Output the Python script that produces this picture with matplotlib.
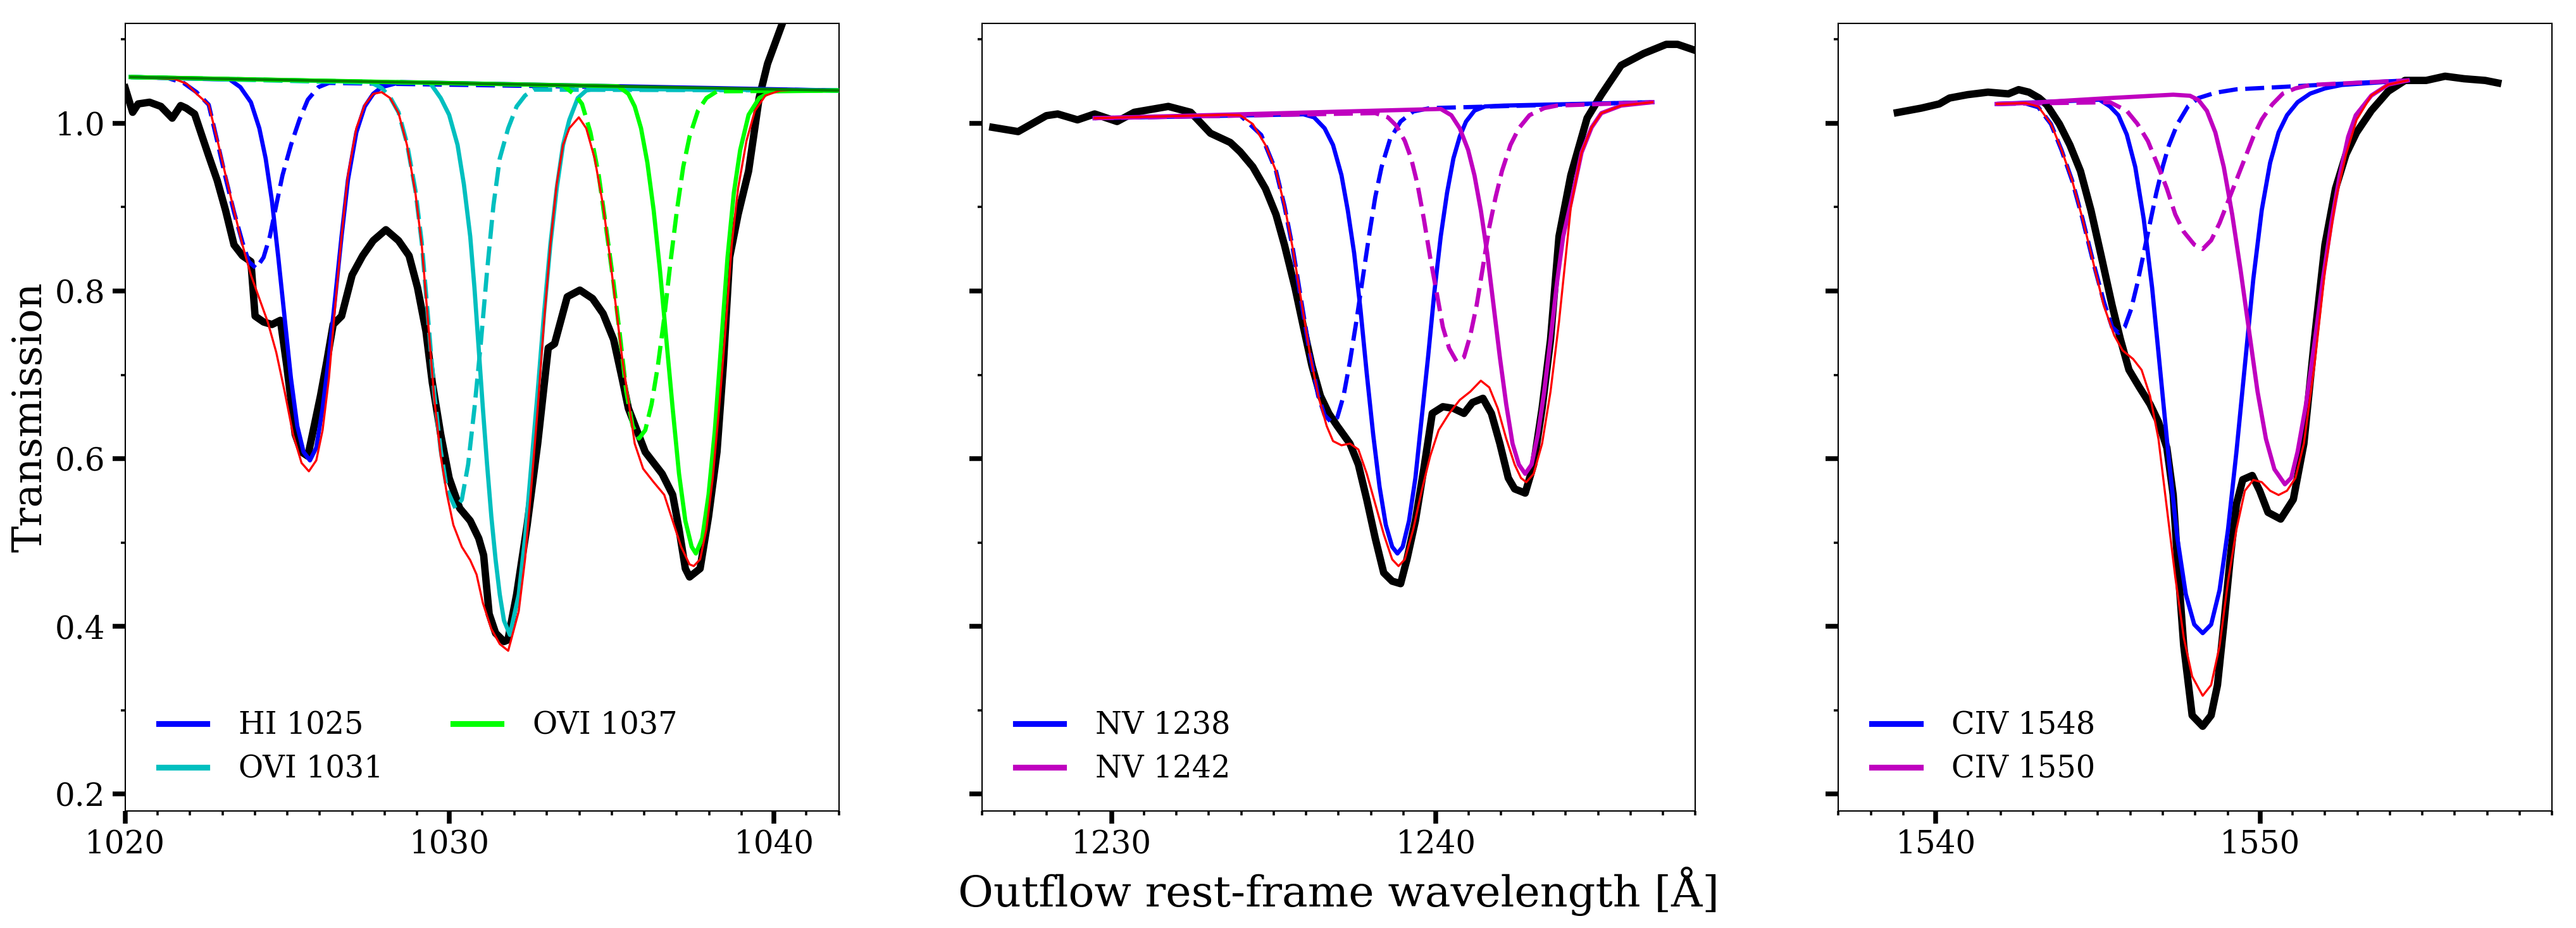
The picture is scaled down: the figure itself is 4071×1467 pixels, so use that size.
import matplotlib
matplotlib.use("Agg")
import matplotlib.pyplot as plt
from matplotlib.ticker import MultipleLocator

plt.rcParams['font.family'] = ['DejaVu Serif']

# ---------------- Panel 1 : HI 1025 / OVI 1031,1037 ----------------
p1_data_wl = [1020.00, 1020.23, 1020.40, 1020.75, 1021.10, 1021.45, 1021.71, 1021.88, 1022.14, 1022.40,
              1022.575, 1022.835, 1023.095, 1023.355, 1023.615, 1023.875, 1024.005, 1024.265, 1024.525,
              1024.786, 1024.981, 1025.241, 1025.436, 1025.631, 1025.826, 1026.021, 1026.216, 1026.411,
              1026.671, 1026.996, 1027.321, 1027.646, 1028.037, 1028.427, 1028.752, 1029.012, 1029.272,
              1029.467, 1029.727, 1029.987, 1030.312, 1030.637, 1030.90, 1031.05, 1031.22, 1031.42, 1031.68,
              1031.80, 1032.067, 1032.392, 1032.717, 1033.042, 1033.237, 1033.628, 1034.018, 1034.408,
              1034.733, 1035.058, 1035.318, 1035.513, 1035.773, 1036.033, 1036.293, 1036.553, 1036.878,
              1037.074, 1037.269, 1037.399, 1037.724, 1037.984, 1038.244, 1038.439, 1038.634, 1038.894,
              1039.219, 1039.544, 1039.804, 1040.26, 1040.70]
p1_data_t = [1.042, 1.013, 1.023, 1.025, 1.020, 1.006, 1.021, 1.018, 1.011, 0.981,
             0.961, 0.932, 0.896, 0.855, 0.842, 0.835, 0.770, 0.763, 0.760,
             0.765, 0.711, 0.629, 0.608, 0.603, 0.639, 0.675, 0.716, 0.760,
             0.770, 0.819, 0.842, 0.860, 0.873, 0.860, 0.842, 0.804, 0.752,
             0.691, 0.629, 0.577, 0.541, 0.526, 0.505, 0.485, 0.415, 0.392, 0.382,
             0.384, 0.438, 0.521, 0.618, 0.732, 0.737, 0.793, 0.801, 0.791,
             0.773, 0.742, 0.696, 0.660, 0.634, 0.608, 0.595, 0.582, 0.557,
             0.516, 0.469, 0.459, 0.469, 0.531, 0.608, 0.711, 0.840, 0.891,
             0.943, 1.030, 1.071, 1.119, 1.170]

p1_cont_wl = [1020.17, 1042.0]
p1_cont_t = [1.055, 1.039]

p1_model_wl = [1020.17, 1021.5, 1021.9, 1022.23, 1022.575, 1022.835, 1023.095, 1023.355, 1023.615, 1023.875,
               1024.135, 1024.395, 1024.656, 1024.916, 1025.176, 1025.436, 1025.663, 1025.891, 1026.086,
               1026.281, 1026.476, 1026.671, 1026.866, 1027.126, 1027.386, 1027.646, 1027.906, 1028.167,
               1028.427, 1028.687, 1028.947, 1029.142, 1029.337, 1029.532, 1029.727, 1029.922, 1030.117,
               1030.377, 1030.637, 1030.832, 1031.027, 1031.288, 1031.548, 1031.808, 1032.132, 1032.327,
               1032.522, 1032.717, 1032.912, 1033.107, 1033.302, 1033.498, 1033.693, 1033.985, 1034.213,
               1034.473, 1034.733, 1034.928, 1035.123, 1035.318, 1035.513, 1035.708, 1035.968, 1036.293,
               1036.618, 1036.878, 1037.139, 1037.399, 1037.529, 1037.724, 1037.919, 1038.114, 1038.309,
               1038.504, 1038.699, 1038.894, 1039.154, 1039.414, 1039.739, 1040.194, 1040.845, 1042.0]
p1_model_t = [1.055, 1.053, 1.047, 1.034, 1.022, 0.981, 0.938, 0.896, 0.855, 0.819,
              0.791, 0.763, 0.727, 0.680, 0.629, 0.595, 0.585, 0.598, 0.634,
              0.696, 0.783, 0.865, 0.938, 0.994, 1.022, 1.035, 1.037, 1.030,
              1.012, 0.974, 0.917, 0.855, 0.763, 0.670, 0.603, 0.557, 0.521,
              0.495, 0.479, 0.462, 0.428, 0.397, 0.379, 0.371, 0.418, 0.480,
              0.567, 0.660, 0.763, 0.855, 0.927, 0.974, 0.994, 1.007, 0.994,
              0.958, 0.902, 0.845, 0.783, 0.721, 0.670, 0.618, 0.588, 0.572,
              0.557, 0.526, 0.495, 0.474, 0.472, 0.480, 0.516, 0.577, 0.660,
              0.752, 0.855, 0.922, 0.979, 1.015, 1.033, 1.039, 1.040, 1.039]

hi1025_a_wl = [1020.17, 1023.225, 1023.55, 1023.875, 1024.135, 1024.33, 1024.525, 1024.72, 1024.915, 1025.11,
               1025.305, 1025.50, 1025.696, 1025.89, 1026.086, 1026.28, 1026.476, 1026.67, 1026.866, 1027.126,
               1027.386, 1027.646, 1027.906, 1028.5, 1042.0]
hi1025_a_t = [1.055, 1.052, 1.043, 1.025, 0.994, 0.958, 0.907, 0.840, 0.768, 0.696,
              0.639, 0.608, 0.598, 0.613, 0.660, 0.721, 0.793, 0.865, 0.932, 0.989,
              1.020, 1.035, 1.043, 1.049, 1.039]
hi1025_b_wl = [1020.17, 1021.3, 1021.8, 1022.2, 1022.575, 1022.835, 1023.095, 1023.355, 1023.615, 1023.81,
               1024.038, 1024.265, 1024.46, 1024.656, 1024.85, 1025.11, 1025.37, 1025.63, 1025.956, 1026.28, 1042.0]
hi1025_b_t = [1.055, 1.054, 1.048, 1.037, 1.022, 0.979, 0.935, 0.894, 0.858, 0.835,
              0.827, 0.840, 0.865, 0.902, 0.938, 0.974, 1.004, 1.028, 1.043, 1.048, 1.039]

ovi1031_a_wl = [1020.17, 1029.4, 1029.727, 1029.987, 1030.247, 1030.442, 1030.637, 1030.767, 1030.897, 1031.027,
                1031.157, 1031.288, 1031.418, 1031.548, 1031.678, 1031.86, 1032.132, 1032.327, 1032.522,
                1032.717, 1032.912, 1033.107, 1033.302, 1033.498, 1033.693, 1033.953, 1034.213, 1034.473, 1042.0]
ovi1031_a_t = [1.055, 1.048, 1.030, 1.010, 0.974, 0.927, 0.865, 0.804, 0.732, 0.660,
               0.593, 0.531, 0.480, 0.438, 0.407, 0.390, 0.438, 0.505, 0.593,
               0.680, 0.773, 0.855, 0.922, 0.974, 1.004, 1.030, 1.039, 1.041, 1.039]
ovi1031_b_wl = [1020.17, 1027.6, 1027.906, 1028.167, 1028.427, 1028.687, 1028.947, 1029.142, 1029.337, 1029.532,
                1029.727, 1029.922, 1030.18, 1030.377, 1030.572, 1030.767, 1030.962, 1031.157, 1031.353,
                1031.548, 1031.808, 1032.068, 1032.328, 1032.588, 1042.0]
ovi1031_b_t = [1.055, 1.048, 1.042, 1.031, 1.013, 0.976, 0.920, 0.858, 0.768, 0.676,
               0.610, 0.563, 0.541, 0.551, 0.593, 0.660, 0.737, 0.824, 0.902,
               0.958, 0.994, 1.020, 1.033, 1.040, 1.039]

ovi1037_a_wl = [1020.17, 1035.2, 1035.513, 1035.708, 1035.903, 1036.098, 1036.293, 1036.488, 1036.683, 1036.878,
                1037.074, 1037.269, 1037.464, 1037.594, 1037.789, 1037.984, 1038.179, 1038.374, 1038.569,
                1038.764, 1038.959, 1039.219, 1039.544, 1039.934, 1042.0]
ovi1037_a_t = [1.055, 1.044, 1.035, 1.020, 0.994, 0.953, 0.896, 0.824, 0.742, 0.660,
               0.582, 0.526, 0.495, 0.487, 0.505, 0.557, 0.634, 0.737, 0.840,
               0.917, 0.968, 1.010, 1.030, 1.038, 1.039]
ovi1037_b_wl = [1020.17, 1033.5, 1033.888, 1034.083, 1034.343, 1034.603, 1034.863, 1035.058, 1035.253, 1035.448,
                1035.643, 1035.838, 1036.033, 1036.228, 1036.423, 1036.618, 1036.813, 1037.009, 1037.204,
                1037.399, 1037.659, 1037.919, 1038.244, 1042.0]
ovi1037_b_t = [1.055, 1.045, 1.033, 1.023, 0.989, 0.937, 0.865, 0.809, 0.747, 0.680,
               0.639, 0.624, 0.634, 0.665, 0.711, 0.768, 0.835, 0.896, 0.948,
               0.984, 1.015, 1.030, 1.038, 1.039]

# ---------------- Panel 2 : NV doublet ----------------
p2_data_wl = [1226.34, 1227.12, 1227.99, 1228.34, 1228.95, 1229.48, 1230.17, 1230.70, 1231.75, 1232.44,
              1233.05, 1233.66, 1233.963, 1234.354, 1234.744, 1235.07, 1235.33, 1235.656, 1235.916, 1236.177,
              1236.437, 1236.697, 1236.958, 1237.349, 1237.609, 1237.869, 1238.13, 1238.39, 1238.651, 1238.911,
              1239.106, 1239.367, 1239.627, 1239.887, 1240.213, 1240.539, 1240.864, 1241.125, 1241.45, 1241.71,
              1241.971, 1242.231, 1242.427, 1242.752, 1243.012, 1243.273, 1243.533, 1243.794, 1244.159, 1244.66,
              1245.10, 1245.71, 1246.40, 1247.10, 1247.45, 1247.98, 1248.10]
p2_data_t = [0.995, 0.990, 1.009, 1.011, 1.004, 1.011, 1.002, 1.013, 1.020, 1.013,
             0.988, 0.977, 0.966, 0.948, 0.922, 0.891, 0.855, 0.804, 0.757, 0.711,
             0.675, 0.654, 0.639, 0.618, 0.593, 0.551, 0.505, 0.464, 0.454, 0.451,
             0.480, 0.526, 0.588, 0.654, 0.662, 0.660, 0.654, 0.667, 0.672, 0.654,
             0.618, 0.577, 0.564, 0.559, 0.593, 0.660, 0.742, 0.865, 0.938, 1.006,
             1.034, 1.069, 1.083, 1.094, 1.094, 1.087, 1.086]

p2_model_wl = [1229.48, 1233.5, 1233.963, 1234.354, 1234.744, 1235.07, 1235.33, 1235.59, 1235.851, 1236.111,
               1236.372, 1236.632, 1236.828, 1237.088, 1237.349, 1237.609, 1237.869, 1238.13, 1238.39, 1238.651,
               1238.846, 1239.041, 1239.302, 1239.562, 1239.822, 1240.083, 1240.408, 1240.734, 1241.06, 1241.385,
               1241.645, 1241.906, 1242.166, 1242.427, 1242.622, 1242.785, 1243.012, 1243.273, 1243.533, 1243.794,
               1244.159, 1244.49, 1244.8, 1245.1, 1245.71, 1246.67]
p2_model_t = [1.006, 1.010, 1.0095, 0.999, 0.974, 0.943, 0.902, 0.850, 0.788, 0.726,
              0.675, 0.639, 0.621, 0.616, 0.618, 0.611, 0.582, 0.546, 0.510, 0.480,
              0.472, 0.480, 0.516, 0.562, 0.603, 0.634, 0.654, 0.670, 0.680, 0.693,
              0.685, 0.660, 0.624, 0.593, 0.577, 0.572, 0.582, 0.618, 0.680, 0.763,
              0.900, 0.965, 0.995, 1.012, 1.021, 1.025]

nv1238_a_wl = [1229.48, 1235.916, 1236.242, 1236.567, 1236.828, 1237.088, 1237.283, 1237.479, 1237.674, 1237.869,
               1238.065, 1238.26, 1238.455, 1238.651, 1238.813, 1238.976, 1239.171, 1239.367, 1239.562, 1239.757,
               1239.953, 1240.148, 1240.343, 1240.539, 1240.734, 1240.929, 1241.19, 1241.515, 1242.1, 1246.67]
nv1238_a_t = [1.006, 1.0106, 1.007, 0.994, 0.974, 0.938, 0.896, 0.845, 0.778, 0.701,
              0.629, 0.567, 0.521, 0.495, 0.487, 0.495, 0.526, 0.577, 0.649, 0.721,
              0.799, 0.865, 0.917, 0.958, 0.984, 1.002, 1.015, 1.020, 1.021, 1.025]
nv1238_b_wl = [1229.48, 1233.963, 1234.614, 1235.07, 1235.33, 1235.59, 1235.85, 1236.11, 1236.37, 1236.567,
               1236.763, 1236.958, 1237.153, 1237.349, 1237.544, 1237.739, 1237.935, 1238.13, 1238.325, 1238.586,
               1238.911, 1239.302, 1239.822, 1246.67]
nv1238_b_t = [1.006, 1.0095, 0.986, 0.943, 0.9015, 0.850, 0.788, 0.726, 0.675, 0.652,
              0.644, 0.649, 0.675, 0.716, 0.763, 0.814, 0.865, 0.912, 0.948, 0.981,
              1.002, 1.014, 1.018, 1.025]
nv1242_a_wl = [1229.48, 1240.148, 1240.474, 1240.734, 1240.994, 1241.19, 1241.385, 1241.58, 1241.776, 1241.971,
               1242.166, 1242.362, 1242.557, 1242.752, 1242.948, 1243.143, 1243.338, 1243.533, 1243.729, 1243.924,
               1244.159, 1244.49, 1244.8, 1245.1, 1245.71, 1246.67]
nv1242_a_t = [1.006, 1.017, 1.0095, 0.994, 0.968, 0.9375, 0.896, 0.845, 0.783, 0.721,
              0.665, 0.618, 0.593, 0.582, 0.593, 0.629, 0.680, 0.742, 0.809, 0.865,
              0.905, 0.965, 0.995, 1.012, 1.021, 1.025]
nv1242_b_wl = [1229.48, 1238.13, 1238.52, 1238.78, 1239.04, 1239.237, 1239.432, 1239.627, 1239.822, 1240.018,
               1240.213, 1240.408, 1240.636, 1240.864, 1241.06, 1241.255, 1241.45, 1241.645, 1241.841, 1242.036,
               1242.297, 1242.557, 1242.883, 1243.338, 1243.729, 1246.67]
nv1242_b_t = [1.006, 1.012, 1.007, 0.997, 0.979, 0.958, 0.927, 0.886, 0.840, 0.799,
              0.757, 0.7316, 0.716, 0.721, 0.747, 0.783, 0.829, 0.876, 0.912, 0.943,
              0.974, 0.994, 1.0095, 1.018, 1.021, 1.025]

# ---------------- Panel 3 : CIV doublet ----------------
p3_data_wl = [1538.817, 1539.558, 1540.11, 1540.426, 1540.978, 1541.61, 1542.24, 1542.555, 1542.871, 1543.186,
              1543.422, 1543.812, 1544.136, 1544.461, 1544.786, 1545.111, 1545.436, 1545.696, 1545.956, 1546.281,
              1546.606, 1546.866, 1547.125, 1547.32, 1547.45, 1547.645, 1547.905, 1548.23, 1548.49, 1548.685,
              1548.88, 1549.075, 1549.27, 1549.465, 1549.757, 1549.985, 1550.244, 1550.634, 1551.024, 1551.349,
              1551.674, 1551.999, 1552.324, 1552.649, 1552.974, 1553.429, 1553.948, 1554.468, 1555.118, 1555.703,
              1556.288, 1556.937, 1557.327]
p3_data_t = [1.0127, 1.018, 1.023, 1.030, 1.034, 1.037, 1.035, 1.040, 1.037, 1.030,
             1.022, 0.999, 0.974, 0.943, 0.896, 0.840, 0.783, 0.742, 0.706, 0.685,
             0.665, 0.644, 0.613, 0.557, 0.480, 0.377, 0.294, 0.281, 0.294, 0.330,
             0.402, 0.480, 0.546, 0.575, 0.580, 0.562, 0.536, 0.528, 0.5515, 0.618,
             0.742, 0.855, 0.922, 0.963, 0.989, 1.015, 1.038, 1.051, 1.051, 1.056,
             1.053, 1.051, 1.048]

p3_model_wl = [1541.88, 1542.772, 1543.162, 1543.552, 1543.877, 1544.201, 1544.526, 1544.851, 1545.176, 1545.501,
               1545.761, 1546.086, 1546.346, 1546.606, 1546.866, 1547.125, 1547.385, 1547.645, 1547.905, 1548.23,
               1548.49, 1548.75, 1549.01, 1549.27, 1549.53, 1549.79, 1550.05, 1550.309, 1550.569, 1550.829,
               1551.089, 1551.349, 1551.674, 1551.999, 1552.324, 1552.649, 1552.974, 1553.429, 1553.948, 1554.55]
p3_model_t = [1.023, 1.024, 1.0198, 0.9993, 0.9684, 0.9323, 0.886, 0.8346, 0.7831, 0.7471,
              0.7291, 0.7188, 0.7059, 0.675, 0.6236, 0.5412, 0.4589, 0.3868, 0.3405, 0.3174,
              0.3302, 0.3765, 0.4537, 0.5155, 0.5618, 0.5747, 0.5721, 0.5618, 0.5567, 0.5618,
              0.577, 0.618, 0.711, 0.824, 0.907, 0.963, 1.004, 1.033, 1.046, 1.051]

civ1548_a_wl = [1541.88, 1545.046, 1545.371, 1545.631, 1545.891, 1546.151, 1546.411, 1546.671, 1546.931, 1547.19,
                1547.45, 1547.71, 1547.97, 1548.23, 1548.49, 1548.75, 1549.01, 1549.27, 1549.53, 1549.79,
                1550.05, 1550.309, 1550.569, 1550.829, 1551.154, 1551.544, 1552.0, 1552.52, 1554.55]
civ1548_a_t = [1.023, 1.028, 1.020, 1.0095, 0.9864, 0.9478, 0.886, 0.8037, 0.7008, 0.5978,
               0.5052, 0.4383, 0.4023, 0.392, 0.4023, 0.4434, 0.5155, 0.6081, 0.7111, 0.814,
               0.8963, 0.9529, 0.989, 1.0095, 1.025, 1.0353, 1.0415, 1.0456, 1.051]
civ1548_b_wl = [1541.88, 1542.772, 1543.162, 1543.552, 1543.877, 1544.201, 1544.526, 1544.851, 1545.176, 1545.436,
                1545.631, 1545.826, 1546.021, 1546.216, 1546.411, 1546.606, 1546.801, 1546.996, 1547.19, 1547.45,
                1547.775, 1548.1, 1548.62, 1549.27, 1550.569, 1552.948, 1554.55]
civ1548_b_t = [1.023, 1.0235, 1.019, 0.999, 0.968, 0.932, 0.886, 0.835, 0.788, 0.757,
               0.750, 0.757, 0.778, 0.809, 0.845, 0.881, 0.917, 0.948, 0.974, 0.999,
               1.020, 1.030, 1.0363, 1.0404, 1.043, 1.048, 1.051]
civ1550_a_wl = [1541.88, 1542.772, 1545.371, 1547.32, 1547.84, 1548.1, 1548.36, 1548.62, 1548.88, 1549.14,
                1549.40, 1549.66, 1549.92, 1550.18, 1550.44, 1550.764, 1550.959, 1551.154, 1551.414, 1551.674,
                1551.934, 1552.194, 1552.454, 1552.714, 1552.948, 1553.43, 1553.95, 1554.55]
civ1550_a_t = [1.023, 1.024, 1.030, 1.034, 1.0327, 1.0276, 1.0147, 0.989, 0.9478, 0.891,
               0.8243, 0.7522, 0.6802, 0.6236, 0.5875, 0.5695, 0.5772, 0.6081, 0.6647, 0.7368,
               0.814, 0.8809, 0.9375, 0.9838, 1.0095, 1.033, 1.046, 1.051]
civ1550_b_wl = [1541.88, 1545.371, 1545.891, 1546.216, 1546.541, 1546.866, 1547.125, 1547.385, 1547.645, 1547.97,
                1548.23, 1548.49, 1548.75, 1549.01, 1549.27, 1549.53, 1549.79, 1550.05, 1550.374, 1550.699,
                1551.089, 1551.544, 1554.55]
civ1550_b_t = [1.023, 1.025, 1.0147, 0.9993, 0.9787, 0.9478, 0.9221, 0.8912, 0.8706, 0.8552,
               0.85, 0.8603, 0.8809, 0.9066, 0.9323, 0.9581, 0.9838, 1.0044, 1.0224, 1.0353,
               1.0415, 1.0456, 1.051]

xlims = [(1020, 1042), (1226, 1248), (1537, 1559)]
ylims = (0.180, 1.119)

# ---------------- Figure ----------------
DPI = 300
fig, axes = plt.subplots(1, 3, figsize=(4071 / DPI, 1467 / DPI), dpi=DPI, sharey=True)
fig.subplots_adjust(left=0.0486, right=0.9907, bottom=0.1261, top=0.9748, wspace=0.2004)

LW_DATA, LW_COMP, LW_MODEL = 2.8, 1.6, 0.8
DASH = (4.5, 1.8)

def draw_panel(ax, data, comps, model, cont=None):
    ax.plot(data[0], data[1], color='k', lw=LW_DATA, zorder=2)
    for (wa, ta, wb, tb, col, lab) in comps:
        ax.plot(wa, ta, color=col, lw=LW_COMP, label=lab, zorder=3)
        ax.plot(wb, tb, color=col, lw=LW_COMP, ls=(0, DASH), zorder=3)
    ax.plot(model[0], model[1], color='r', lw=LW_MODEL, zorder=4)
    if cont is not None:
        ax.plot(cont[0], cont[1], color='g', lw=1.1, zorder=5)

draw_panel(axes[0], (p1_data_wl, p1_data_t),
           [(hi1025_a_wl, hi1025_a_t, hi1025_b_wl, hi1025_b_t, 'b', 'HI 1025'),
            (ovi1031_a_wl, ovi1031_a_t, ovi1031_b_wl, ovi1031_b_t, 'c', 'OVI 1031'),
            (ovi1037_a_wl, ovi1037_a_t, ovi1037_b_wl, ovi1037_b_t, 'lime', 'OVI 1037')],
           (p1_model_wl, p1_model_t), cont=(p1_cont_wl, p1_cont_t))
draw_panel(axes[1], (p2_data_wl, p2_data_t),
           [(nv1238_a_wl, nv1238_a_t, nv1238_b_wl, nv1238_b_t, 'b', 'NV 1238'),
            (nv1242_a_wl, nv1242_a_t, nv1242_b_wl, nv1242_b_t, 'm', 'NV 1242')],
           (p2_model_wl, p2_model_t))
draw_panel(axes[2], (p3_data_wl, p3_data_t),
           [(civ1548_a_wl, civ1548_a_t, civ1548_b_wl, civ1548_b_t, 'b', 'CIV 1548'),
            (civ1550_a_wl, civ1550_a_t, civ1550_b_wl, civ1550_b_t, 'm', 'CIV 1550')],
           (p3_model_wl, p3_model_t))

for i, ax in enumerate(axes):
    ax.set_xlim(*xlims[i])
    ax.set_ylim(*ylims)
    ax.xaxis.set_major_locator(MultipleLocator(10))
    ax.xaxis.set_minor_locator(MultipleLocator(1))
    ax.yaxis.set_major_locator(MultipleLocator(0.2))
    ax.yaxis.set_minor_locator(MultipleLocator(0.1))
    ax.tick_params(which='major', direction='out', length=4.7, width=1.8, labelsize=12)
    ax.tick_params(which='minor', direction='out', length=1.7, width=0.85)
    ax.tick_params(axis='x', which='major', pad=2.0)
    ax.tick_params(axis='y', which='major', pad=2.9)
    for sp in ax.spines.values():
        sp.set_linewidth(0.5)
    leg = ax.legend(loc='lower left', bbox_to_anchor=(0.047, 0.0341), borderaxespad=0, borderpad=0,
                    ncol=2 if i == 0 else 1, frameon=False, fontsize=11.5,
                    handlelength=1.59, handletextpad=1.04, columnspacing=2.3, labelspacing=0.46)
    for h in leg.get_lines():
        h.set_linewidth(2.2)

ylab = axes[0].set_ylabel('Transmission', fontsize=15.5)
xlab = axes[1].set_xlabel('Outflow rest-frame wavelength [Å]', fontsize=16.5)

# size the axis labels so their length matches the reference (in pixels)
fig.canvas.draw()
r = fig.canvas.get_renderer()
bb = ylab.get_window_extent(r)
ylab.set_fontsize(ylab.get_fontsize() * 428.0 / bb.height)
bb = xlab.get_window_extent(r)
xlab.set_fontsize(xlab.get_fontsize() * 1203.0 / bb.width)

# baseline positions (axes fraction)
ylab.set_verticalalignment('baseline')
axes[0].yaxis.set_label_coords(-0.1179, 0.5)
xlab.set_verticalalignment('baseline')
axes[1].xaxis.set_label_coords(0.5, -0.1213)

fig.savefig('out.png', dpi=DPI)
